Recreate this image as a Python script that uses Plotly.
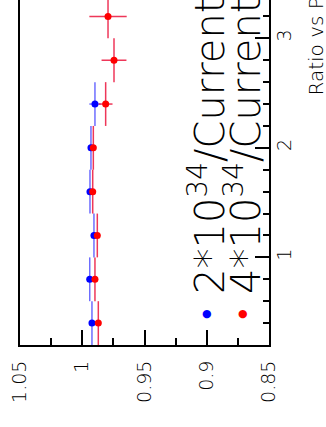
import plotly.graph_objects as go

# Data (rotated ROOT-style plot: ratio on horizontal axis, bin on vertical axis)
bins_blue = [0.4, 0.8, 1.2, 1.6, 2.0, 2.4]
ratio_blue = [0.9922, 0.9940, 0.9906, 0.9938, 0.9930, 0.9898]
err_blue = [0.001, 0.001, 0.001, 0.0015, 0.0015, 0.0045]

bins_red = [0.4, 0.8, 1.2, 1.6, 2.0, 2.4, 2.8, 3.2]
ratio_red = [0.9871, 0.9898, 0.9879, 0.9916, 0.9911, 0.9812, 0.9745, 0.9793]
err_red = [0.001, 0.001, 0.001, 0.0015, 0.0015, 0.0055, 0.010, 0.015]

bin_half_width = 0.2
legend_labels = ["2*10<sup>34</sup>/Current", "4*10<sup>34</sup>/Current"]
axis_title = "Ratio vs Pileup"

FONT = "DejaVu Sans"

fig = go.Figure()
fig.add_trace(go.Scatter(
    x=ratio_blue, y=bins_blue, mode="markers",
    marker=dict(color="#0000ff", size=7),
    error_x=dict(type="data", array=err_blue, color="rgba(60,60,255,0.75)", thickness=1.5, width=0),
    error_y=dict(type="constant", value=bin_half_width, color="rgba(60,60,255,0.75)", thickness=1.5, width=0),
    showlegend=False))
fig.add_trace(go.Scatter(
    x=ratio_red, y=bins_red, mode="markers",
    marker=dict(color="#ff0000", size=7),
    error_x=dict(type="data", array=err_red, color="rgba(235,20,60,0.85)", thickness=1.5, width=0),
    error_y=dict(type="constant", value=bin_half_width, color="rgba(235,20,60,0.85)", thickness=1.5, width=0),
    showlegend=False))

W, H = 326, 427
L, R, T, B = 20, 57, 0, 82
pw, ph = W - L - R, H - T - B

def px2paper(x, y):
    return (x - L) / pw, (H - B - y) / ph

# legend
for lab, col, cx in zip(legend_labels, ["#0000ff", "#ff0000"], [207, 243]):
    mx, my = px2paper(cx, 313)
    fig.add_annotation(xref="paper", yref="paper", x=mx, y=my, text="●", showarrow=False,
                       font=dict(family=FONT, size=11, color=col), xanchor="center", yanchor="middle")
    tx, ty = px2paper(cx, 296)
    fig.add_annotation(xref="paper", yref="paper", x=tx, y=ty, text=lab, showarrow=False,
                       textangle=-90, font=dict(family=FONT, size=40, color="black", weight=200),
                       xanchor="center", yanchor="bottom")

ax, ay = px2paper(316, 98)
fig.add_annotation(xref="paper", yref="paper", x=ax, y=ay, text=axis_title, showarrow=False,
                   textangle=-90, font=dict(family=FONT, size=20, color="black", weight=200),
                   xanchor="center", yanchor="bottom")

fig.update_layout(
    width=W, height=H, margin=dict(l=L, r=R, t=T, b=B),
    paper_bgcolor="white", plot_bgcolor="white",
    font=dict(family=FONT, color="black"),
    xaxis=dict(range=[1.05, 0.85], dtick=0.05, tick0=0.85, ticks="inside", ticklen=15,
               tickwidth=1.5, tickcolor="black", showline=True, linecolor="black", linewidth=2,
               mirror=False, showgrid=False, zeroline=False, tickangle=-90,
               tickfont=dict(size=19, weight=200), ticklabelstandoff=6,
               minor=dict(dtick=0.025, tick0=0.85, ticks="inside", ticklen=7, tickwidth=1.5,
                          tickcolor="black", showgrid=False)),
    yaxis=dict(range=[0.2, 3.35], side="right", tickvals=[1, 2, 3], ticks="inside", ticklen=14,
               tickwidth=1.5, tickcolor="black", showline=True, linecolor="black", linewidth=2,
               mirror=True, showgrid=False, zeroline=False, tickangle=-90,
               tickfont=dict(size=19, weight=200), ticklabelstandoff=-3,
               minor=dict(dtick=0.2, tick0=0, ticks="inside", ticklen=6, tickwidth=1.5,
                          tickcolor="black", showgrid=False)),
)

fig.write_html("out.html", config={"displayModeBar": False},
               post_script="document.body.style.margin='0px';")
